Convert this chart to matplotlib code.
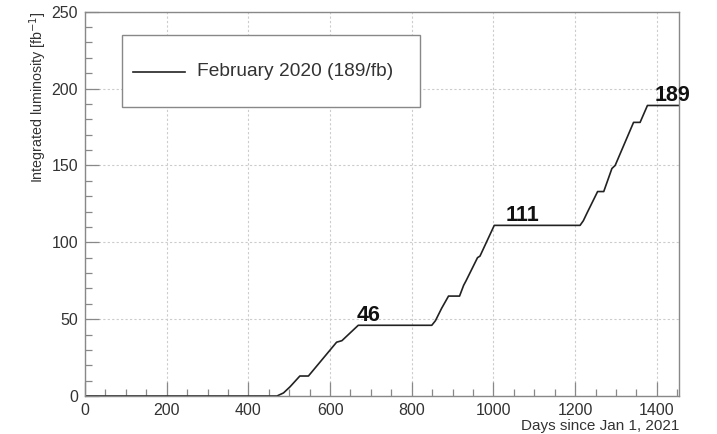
import matplotlib
matplotlib.use("Agg")
import matplotlib.pyplot as plt
from matplotlib.ticker import MultipleLocator
from matplotlib.patches import Rectangle
from matplotlib.lines import Line2D

plt.rcParams['font.family'] = ['Liberation Sans', 'DejaVu Sans']

days = [0, 470, 486, 502, 526, 547, 616, 629, 669, 849, 858, 873, 890, 917,
        927, 933, 961, 967, 1002, 1212, 1220, 1229, 1255, 1270, 1290, 1298,
        1343, 1359, 1377, 1455]
lumi = [0, 0, 2, 6, 13, 13, 35, 36, 46, 46, 49, 57, 65, 65,
        72, 75, 90, 91, 111, 111, 114, 119, 133, 133, 148, 150,
        178, 178, 189, 189]
series_label = "February 2020 (189/fb)"
milestones = [46, 111, 189]
x_label = "Days since Jan 1, 2021"
y_label = "Integrated luminosity [fb$^{-1}$]"

W, H = 717, 434
fig = plt.figure(figsize=(W / 100, H / 100), dpi=100)
ax = fig.add_axes([85 / W, 1 - 396 / H, (679.3 - 85) / W, (396 - 11.7) / H])

line, = ax.plot(days, lumi, color='#222222', lw=1.2)

ax.set_xlim(0, 1455)
ax.set_ylim(0, 250)
ax.xaxis.set_major_locator(MultipleLocator(200))
ax.xaxis.set_minor_locator(MultipleLocator(50))
ax.yaxis.set_major_locator(MultipleLocator(50))
ax.yaxis.set_minor_locator(MultipleLocator(10))
ax.grid(True, which='major', color='#cccccc', linestyle=(0, (2, 2)), lw=0.8)
ax.tick_params(which='major', direction='in', length=10, width=0.9, color='#888888',
               labelsize=11.5, labelcolor='#333333', pad=5)
ax.tick_params(which='minor', direction='in', length=5, width=0.9, color='#888888')
for s in ax.spines.values():
    s.set_color('#888888')
    s.set_linewidth(1.0)

ax.set_xlabel(x_label, fontsize=11, color='#333333', loc='right', labelpad=1)
ax.set_ylabel(y_label, fontsize=10.3, color='#333333', loc='top', labelpad=2)

offsets = {46: -5, 111: 27, 189: 17}
for m in milestones:
    i = lumi.index(m)
    ax.text(days[i] + offsets[m], m - 0.2, str(m), fontsize=15.5, fontweight='bold',
            color='#111111', ha='left', va='bottom', clip_on=False)

# legend box drawn in figure pixels
fig.add_artist(Rectangle((122 / W, 1 - 107 / H), 298 / W, 72 / H,
                         transform=fig.transFigure, facecolor='white',
                         edgecolor='#888888', lw=1.0))
fig.add_artist(Line2D([133 / W, 185 / W], [1 - 72 / H, 1 - 72 / H],
                      transform=fig.transFigure, color='#222222', lw=1.2))
fig.text(197 / W, 1 - 72 / H, series_label, fontsize=13.8, color='#333333',
         ha='left', va='center')

fig.savefig('out.png', dpi=100)
